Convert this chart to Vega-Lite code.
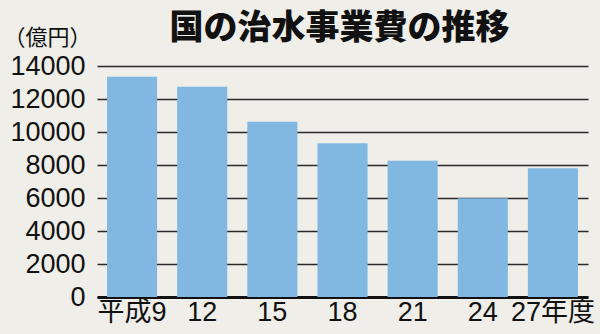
{
  "$schema": "https://vega.github.io/schema/vega-lite/v6.json",
  "width": 491,
  "height": 231,
  "autosize": "none",
  "padding": {"left": 97, "top": 66, "right": 12, "bottom": 37},
  "background": "#efeee9",
  "title": {
    "text": "国の治水事業費の推移",
    "font": "Noto Sans CJK JP",
    "fontSize": 34,
    "fontWeight": 900,
    "color": "#111111",
    "anchor": "middle",
    "frame": "group",
    "baseline": "bottom",
    "offset": 20,
    "dx": -3,
    "dy": 74
  },
  "data": {
    "values": [
      {"year": "平成9", "cost": 13350},
      {"year": "12", "cost": 12750},
      {"year": "15", "cost": 10620},
      {"year": "18", "cost": 9320},
      {"year": "21", "cost": 8260},
      {"year": "24", "cost": 5990},
      {"year": "27年度", "cost": 7800}
    ]
  },
  "config": {
    "view": {"stroke": null},
    "axis": {
      "labelFont": "Liberation Sans, Noto Sans CJK JP",
      "labelColor": "#111111",
      "titleFont": "Noto Sans CJK JP"
    }
  },
  "mark": {"type": "bar", "color": "#80b8e2"},
  "encoding": {
    "x": {
      "field": "year",
      "type": "nominal",
      "sort": null,
      "scale": {"paddingInner": 0.2857, "paddingOuter": 0.1429},
      "axis": {
        "title": null,
        "labelAngle": 0,
        "labelFontSize": 27,
        "labelPadding": 2,
        "ticks": false,
        "domainColor": "#111111",
        "domainWidth": 3,
        "grid": false
      }
    },
    "y": {
      "field": "cost",
      "type": "quantitative",
      "scale": {"domain": [0, 14000], "nice": false},
      "axis": {
        "values": [0, 2000, 4000, 6000, 8000, 10000, 12000, 14000],
        "format": "d",
        "labelFontSize": 27,
        "labelPadding": 12,
        "ticks": false,
        "domain": false,
        "grid": true,
        "gridColor": "#2a2a2a",
        "gridWidth": 1.5,
        "title": "（億円）",
        "titleAngle": 0,
        "titleFontSize": 22,
        "titleFontWeight": "normal",
        "titleColor": "#111111",
        "titleAlign": "left",
        "titleBaseline": "middle",
        "titleX": -94,
        "titleY": -29
      }
    }
  }
}
